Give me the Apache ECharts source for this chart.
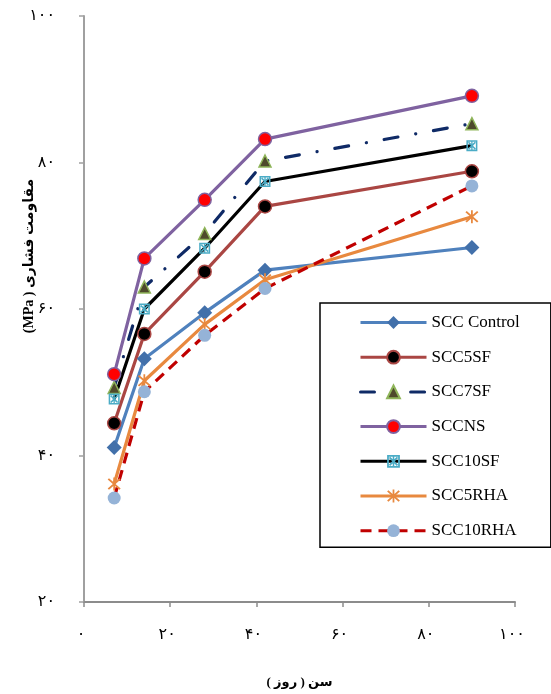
<!DOCTYPE html>
<html>
<head>
<meta charset="utf-8">
<script src="https://cdn.jsdelivr.net/npm/echarts@6/dist/echarts.min.js"></script>
<style>
html,body{margin:0;padding:0;background:#fff;}
#chart{width:551px;height:694px;}
</style>
</head>
<body>
<div id="chart"></div>
<script>
// ---- data ----
const ages = [7, 14, 28, 42, 90];
const sccControl = [41.1, 53.2, 59.5, 65.3, 68.4];
const scc5SF     = [44.4, 56.6, 65.1, 74.0, 78.8];
const scc7SF     = [49.3, 63.0, 70.3, 80.2, 85.3];
const sccNS      = [51.1, 66.9, 74.9, 83.2, 89.1];
const scc10SF    = [47.7, 60.0, 68.3, 77.4, 82.3];
const scc5RHA    = [36.1, 50.2, 57.9, 64.0, 72.6];
const scc10RHA   = [34.2, 48.7, 56.4, 62.8, 76.8];
const seriesNames = ['SCC Control','SCC5SF','SCC7SF','SCCNS','SCC10SF','SCC5RHA','SCC10RHA'];
const xTickLabels = ['۰','۲۰','۴۰','۶۰','۸۰','۱۰۰'];
const yTickLabels = ['۲۰','۴۰','۶۰','۸۰','۱۰۰'];
const xTitle = 'سن ( روز )';
const yTitle = 'مقاومت فشاری ( MPa)';

const pairs = vals => ages.map((a, i) => [a, vals[i]]);
const RLE = '\u202B', PDF = '\u202C';
const latinFont = "'Liberation Serif','Times New Roman',serif";
const arabicFont = "'Liberation Serif','DejaVu Sans',sans-serif";

const boxX = 'path://M0,0H10V10H0Z M1.4,1.4V8.6H8.6V1.4Z M1.4,2.4L2.4,1.4L5,4L7.6,1.4L8.6,2.4L6,5L8.6,7.6L7.6,8.6L5,6L2.4,8.6L1.4,7.6L4,5Z M4.4,1.4H5.6V8.6H4.4Z';
const star = 'path://M4.4,0H5.6V10H4.4Z M0.6,1.5L1.5,0.6L9.4,8.5L8.5,9.4Z M8.5,0.6L9.4,1.5L1.5,9.4L0.6,8.5Z';

function mk(name, vals, line, sym, symSize, fill, border, bw, dash, cap) {
  return {
    name: name, type: 'line', data: pairs(vals),
    symbol: sym, symbolSize: symSize,
    lineStyle: { color: line, width: 3.2, type: dash || 'solid', cap: cap || 'butt' },
    itemStyle: { color: fill, borderColor: border, borderWidth: bw },
    emphasis: { disabled: true },
    animation: false
  };
}

const series = [
  mk(seriesNames[0], sccControl, '#4f81bd', 'diamond', 15, '#4270aa', '#4270aa', 0),
  mk(seriesNames[1], scc5SF, '#aa4643', 'circle', 13, '#000000', '#aa4643', 1.5),
  mk(seriesNames[2], scc7SF, '#0f2a66', 'triangle', 12, '#4e4a2c', '#8fb55a', 1.5, [14, 18, 0.1, 18], 'round'),
  mk(seriesNames[3], sccNS, '#7f62a0', 'circle', 13, '#ff0000', '#7f62a0', 1.5),
  mk(seriesNames[4], scc10SF, '#000000', boxX, 11, '#4bacc6', '#4bacc6', 0),
  mk(seriesNames[5], scc5RHA, '#e8893f', star, 13, '#e8893f', '#e8893f', 0),
  mk(seriesNames[6], scc10RHA, '#c00000', 'circle', 13, '#95b3d7', '#95b3d7', 0, [11, 7])
];

const chart = echarts.init(document.getElementById('chart'), null, { renderer: 'canvas' });
chart.setOption({
  backgroundColor: '#ffffff',
  animation: false,
  grid: { left: 84, right: 36, top: 16, bottom: 92, containLabel: false },
  xAxis: {
    type: 'value', min: 0, max: 100, interval: 20,
    axisLine: { show: true, lineStyle: { color: '#8c8c8c', width: 2 } },
    axisTick: { show: true, inside: false, length: 5, lineStyle: { color: '#8c8c8c', width: 1.5 } },
    splitLine: { show: false },
    axisLabel: { margin: 25, color: '#000', fontSize: 16, fontFamily: arabicFont, padding: [0, 6, 0, 0],
      formatter: v => xTickLabels[Math.round(v / 20)] },
    name: RLE + xTitle + PDF, nameLocation: 'middle', nameGap: 74,
    nameTextStyle: { color: '#000', fontSize: 13, fontWeight: 'bold', fontFamily: arabicFont }
  },
  yAxis: {
    type: 'value', min: 20, max: 100, interval: 20,
    axisLine: { show: true, lineStyle: { color: '#a0a0a0', width: 2 } },
    axisTick: { show: true, inside: false, length: 5, lineStyle: { color: '#a0a0a0', width: 1.5 } },
    splitLine: { show: false },
    axisLabel: { margin: 29, color: '#000', fontSize: 16, fontFamily: arabicFont,
      formatter: v => yTickLabels[Math.round((v - 20) / 20)] }
  },
  legend: {
    data: seriesNames,
    orient: 'vertical', left: 320, top: 303,
    padding: [11, 31, 8, 39],
    itemWidth: 66, itemHeight: 16, itemGap: 17.7,
    borderColor: '#000', borderWidth: 1.5,
    lineStyle: { width: 3 },
    textStyle: { fontFamily: latinFont, fontSize: 17, color: '#000' },
    selectedMode: false
  },
  graphic: [{
    type: 'text', x: 29, y: 256, rotation: Math.PI / 2,
    style: { text: RLE + yTitle + PDF, fill: '#000', align: 'center', verticalAlign: 'middle',
      font: "bold 14px 'Liberation Serif','DejaVu Sans',sans-serif" }
  }],
  series: series
});
</script>
</body>
</html>
